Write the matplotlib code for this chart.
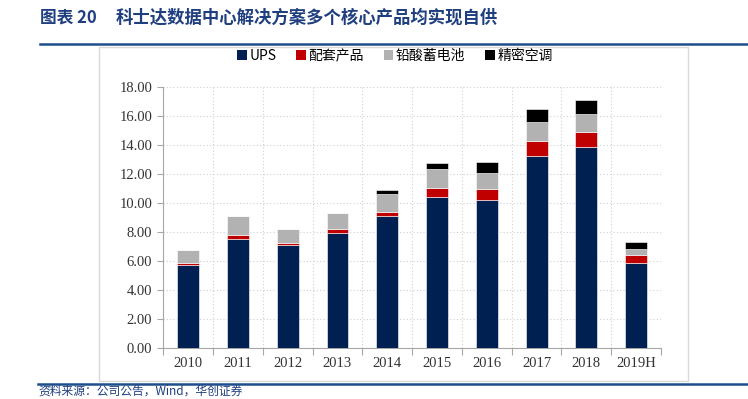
import matplotlib
matplotlib.use('Agg')
import matplotlib.pyplot as plt
from matplotlib.patches import Rectangle, Patch
from matplotlib.lines import Line2D
import numpy as np

plt.rcParams['font.family'] = ['Noto Sans CJK SC', 'DejaVu Sans']

years = ['2010', '2011', '2012', '2013', '2014', '2015', '2016', '2017', '2018', '2019H']
ups = [5.72, 7.51, 7.10, 7.95, 9.10, 10.39, 10.21, 13.27, 13.85, 5.87]
peitao = [0.11, 0.28, 0.16, 0.25, 0.30, 0.67, 0.74, 1.01, 1.06, 0.54]
battery = [0.92, 1.33, 0.92, 1.09, 1.22, 1.27, 1.10, 1.34, 1.22, 0.41]
aircon = [0.00, 0.00, 0.00, 0.00, 0.28, 0.41, 0.81, 0.88, 0.99, 0.46]
series_names = ['UPS', '配套产品', '铅酸蓄电池', '精密空调']
colors = ['#002052', '#C00000', '#B2B2B2', '#000000']

W, H = 748, 399
fig = plt.figure(figsize=(W / 100, H / 100), dpi=100)

# title and rules
title_color = '#1F3F7F'
fig.text(40 / W, 1 - 18 / H, '图表 20', color=title_color, fontsize=12,
         fontweight='bold', va='center', ha='left')
fig.text(116 / W, 1 - 18 / H, '科士达数据中心解决方案多个核心产品均实现自供',
         color=title_color, fontsize=12.5, fontweight='bold', va='center', ha='left')
fig.add_artist(Line2D([40 / W, 1], [1 - 43.5 / H] * 2, color='#1F4E8C', lw=1.8))
fig.add_artist(Line2D([38 / W, 1], [1 - 384 / H] * 2, color='#1F4E8C', lw=1.8))
fig.add_artist(Rectangle((99 / W, 1 - 381 / H), (688 - 99) / W, (381 - 47) / H,
                         fill=False, edgecolor='#D9D9D9', lw=1.0))
fig.text(38 / W, 1 - 398 / H, '资料来源：公司公告，Wind，华创证券', color='#1F3F7F',
         fontsize=8.5, va='bottom', ha='left', fontstyle='italic')

ax = fig.add_axes([163.3 / W, 1 - 347.7 / H, (661 - 163.3) / W, (347.7 - 87.3) / H])
x = np.arange(len(years))
bw = 0.44
bottom = np.zeros(len(years))
for vals, c, name in zip([ups, peitao, battery, aircon], colors, series_names):
    ax.bar(x, vals, bw, bottom=bottom, color=c, edgecolor='white', linewidth=0.4,
           label=name, zorder=3)
    bottom += np.array(vals)

ax.set_xlim(-0.5, len(years) - 0.5)
ax.set_ylim(0, 18)
ax.set_yticks(np.arange(0, 18.1, 2))
ax.set_yticklabels(['%.2f' % v for v in np.arange(0, 18.1, 2)],
                   fontfamily='Liberation Serif', fontsize=10.5, color='#333333')
ax.set_xticks(np.arange(-0.5, len(years), 1))
ax.set_xticklabels([])
ax.set_xticks(x, minor=True)
ax.set_xticklabels(years, minor=True, fontfamily='Liberation Serif', fontsize=10.5,
                   color='#333333')
ax.tick_params(axis='x', which='major', length=5, color='#A6A6A6', direction='out')
ax.tick_params(axis='x', which='minor', length=0, pad=7)
ax.tick_params(axis='y', length=4, color='#A6A6A6', direction='out', pad=4)
ax.grid(True, which='major', color='#D0D0D0', linestyle=(0, (1, 2)), lw=0.8, zorder=0)
for s in ['top', 'right']:
    ax.spines[s].set_visible(False)
for s in ['left', 'bottom']:
    ax.spines[s].set_color('#A6A6A6')

handles = [Patch(facecolor=c) for c in colors]
fig.legend(handles, series_names, loc='center', bbox_to_anchor=(395 / W, 1 - 56 / H),
           ncol=4, frameon=False, fontsize=10, handlelength=0.7, handleheight=0.7,
           handletextpad=0.2, columnspacing=1.4)

fig.savefig('out.png', dpi=100)
